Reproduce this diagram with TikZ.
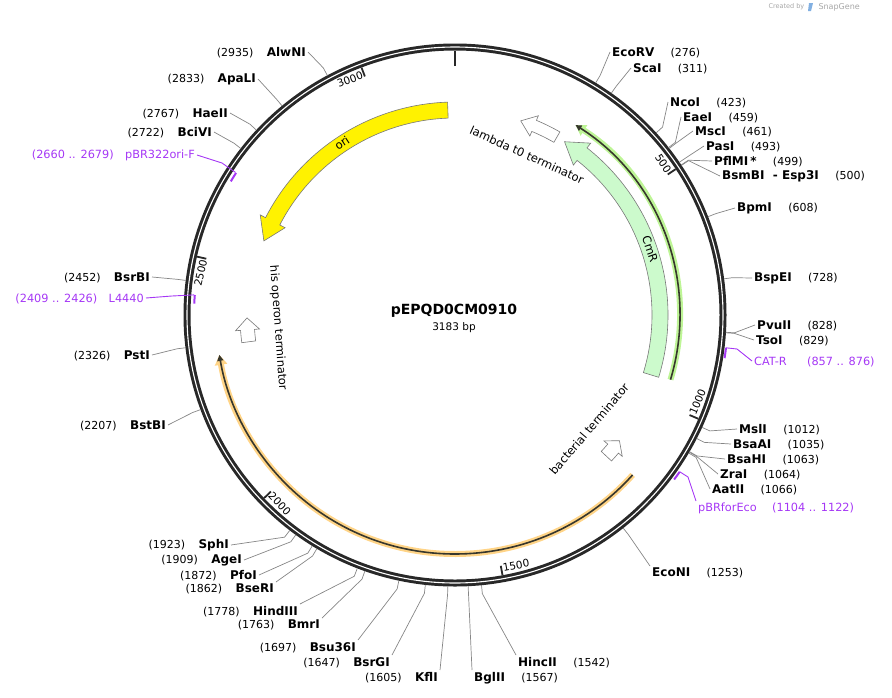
\documentclass[tikz,border=0pt]{standalone}
\usepackage{fontspec}
\setmainfont{DejaVu Sans}
\usetikzlibrary{arrows.meta,positioning}
\definecolor{ringc}{RGB}{40,40,40}
\definecolor{primc}{RGB}{165,55,245}
\definecolor{cmrc}{RGB}{204,250,204}
\definecolor{orfo}{RGB}{255,212,135}
\definecolor{orfg}{RGB}{190,245,150}
\definecolor{edgec}{RGB}{120,120,120}
\definecolor{orfline}{RGB}{55,55,45}
\tikzset{
  site/.style={draw=gray!95, line width=0.7pt},
  enz/.style={font=\fontsize{12}{14}\selectfont\bfseries, inner sep=2pt},
  sitenum/.style={font=\fontsize{11}{13}\selectfont, inner sep=2pt},
  prim/.style={primc, line width=0.9pt},
  primlbl/.style={font=\fontsize{11.3}{13}\selectfont, text=primc, inner sep=2pt},
  feat/.style={draw=edgec, line width=0.6pt},
  featlbl/.style={font=\fontsize{11.5}{13}\selectfont, inner sep=0pt},
  tickmark/.style={ringc, line width=1.8pt},
  ticklbl/.style={font=\fontsize{10.5}{12}\selectfont, inner sep=1.5pt},
}

\begin{document}
\begin{tikzpicture}[x=1pt,y=-1pt]
  \useasboundingbox (0,0) rectangle (892,697);
  \coordinate (C) at (455,315);
  \foreach \ta/\ba/\pa/\rm/\hb/\hh/\fc in {-92/-152.8/-158.8/205/8/14/yellow, 17/-51.7/-57.7/205/8/14/cmrc,
      -60.2/-67.3/-71.3/205/6/11/white, 172.6/175.9/179.2/208/7/12/white, 43/40.2/37.4/207/7/12/white}{
    \draw[feat, fill=\fc] ([shift={({\ta}:{\rm+\hb})}]C) arc[start angle=\ta, end angle=\ba, radius=\rm+\hb]
      -- ([shift={({\ba}:{\rm+\hh})}]C) -- ([shift={({\pa}:{\rm})}]C) -- ([shift={({\ba}:{\rm-\hh})}]C)
      -- ([shift={({\ba}:{\rm-\hb})}]C) arc[start angle=\ba, end angle=\ta, radius=\rm-\hb] -- cycle;
  }
  \draw[orfo, line width=6pt, -{Triangle[length=10pt,width=12pt]}] ([shift={(42:239)}]C) arc[start angle=42, end angle=170.4, radius=239];
  \draw[orfline, line width=1.6pt, -{Triangle[length=6pt,width=6pt]}] ([shift={(42:239)}]C) arc[start angle=42, end angle=170.4, radius=239];
  \draw[orfg, line width=6pt, -{Triangle[length=10pt,width=12pt]}] ([shift={(16.7:225)}]C) arc[start angle=16.7, end angle=-57.6, radius=225];
  \draw[orfline, line width=1.6pt, -{Triangle[length=6pt,width=6pt]}] ([shift={(16.7:225)}]C) arc[start angle=16.7, end angle=-57.6, radius=225];

  \node[featlbl, rotate=33.3] (lori) at ([shift={(236.7:206)}]C) {ori};
  \node[featlbl, rotate=-24.2] (llam) at ([shift={(-65.8:175.5)}]C) {lambda t0 terminator};
  \node[featlbl, rotate=-71.3] (lcmr) at ([shift={(-18.7:206)}]C) {CmR};
  \node[featlbl, rotate=-85.8] (lhis) at ([shift={(175.8:177.5)}]C) {his operon terminator};
  \node[featlbl, rotate=49.6] (lbac) at ([shift={(40.4:176)}]C) {bacterial terminator};

  \draw[ringc, line width=7pt] (C) circle[radius=268];
  \draw[white, line width=1.1pt] (C) circle[radius=268];
  \draw[tickmark] ([shift={(-90:249)}]C) -- ([shift={(-90:264.5)}]C);
  \foreach \p in {500,1000,...,3000}{
    \pgfmathsetmacro\t{\p/3183*360}
    \pgfmathsetmacro\a{\t-90}
    \pgfmathtruncatemacro\flip{(\t>90 && \t<270)?1:0}
    \draw[tickmark] ([shift={(\a:255)}]C) -- ([shift={(\a:264.5)}]C);
    \ifnum\flip=1
      \node[ticklbl, anchor=south west, rotate=180-\t] (t\p) at ([shift={(\a:263)}]C) {\p};
    \else
      \node[ticklbl, anchor=north east, rotate=-\t] (t\p) at ([shift={(\a:263)}]C) {\p};
    \fi
  }

  \node[font=\fontsize{14}{16}\selectfont\bfseries] (title) at (454,311) {pEPQD0CM0910};
  \node[font=\fontsize{10.5}{12}\selectfont] (size) at (454,327.5) {3183 bp};

  \foreach \p/\x/\y/\an/\nm [count=\i] in {276/610/52/west/EcoRV, 311/631/68/west/ScaI, 423/668/102/west/NcoI,
      459/681/117/west/EaeI, 461/693/131/west/MscI, 493/704/146/west/PasI, 499/712/161/west/{PflMI\,*},
      500/720/176/west/{BsmBI\ \ -\ Esp3I}, 608/735/208/west/BpmI, 728/752/278/west/BspEI, 828/755/325/west/PvuII,
      829/754/340/west/TsoI, 1012/737/429/west/MslI, 1035/731/444/west/BsaAI, 1063/725/459/west/BsaHI,
      1064/718/474/west/ZraI, 1066/710/489/west/AatII, 1253/650/566/north west/EcoNI,
      1542/516/655/north west/HincII, 1567/472/670/north west/BglII}{
    \pgfmathsetmacro\a{\p/3183*360-90}
    \coordinate (r\i) at ([shift={(\a:271.5)}]C);
    \coordinate (k\i) at ([shift={(\a:280)}]C);
    \node[enz, anchor=\an] (n\i) at (\x,\y) {\nm};
    \node[sitenum, anchor=base west] (m\i) at ([xshift=12pt]n\i.base east) {(\p)};
    \draw[site] (r\i) -- (k\i) -- (n\i.\an);
  }
  \foreach \p/\x/\y/\an/\nm [count=\i] in {2935/308/52/east/AlwNI, 2833/258/79/east/ApaLI, 2767/230/113/east/HaeII,
      2722/214/132/east/BciVI, 2452/152/277/east/BsrBI, 2326/152/355/east/PstI, 2207/168/425/east/BstBI,
      1923/231/545/east/SphI, 1909/244/560/east/AgeI, 1872/259/575/east/PfoI, 1862/276/582/north east/BseRI,
      1778/300/604/north east/HindIII, 1763/322/618/north east/BmrI, 1697/358/640/north east/Bsu36I,
      1647/392/655/north east/BsrGI, 1605/440/670/north east/KflI}{
    \pgfmathsetmacro\a{\p/3183*360-90}
    \coordinate (rl\i) at ([shift={(\a:271.5)}]C);
    \coordinate (kl\i) at ([shift={(\a:280)}]C);
    \node[enz, anchor=\an] (w\i) at (\x,\y) {\nm};
    \node[sitenum, anchor=base east] (v\i) at ([xshift=-9pt]w\i.base west) {(\p)};
    \draw[site] (rl\i) -- (kl\i) -- (w\i.\an);
  }

  \draw[primc, line width=2pt] ([shift={(6.9:273)}]C) arc[start angle=6.9, end angle=9.1, radius=273];
  \draw[primc, line width=2pt] ([shift={(34.9:274)}]C) arc[start angle=34.9, end angle=36.9, radius=274];
  \draw[primc, line width=2pt] ([shift={(210.8:261)}]C) arc[start angle=210.8, end angle=213, radius=261];
  \draw[primc, line width=2pt] ([shift={(182.5:261)}]C) arc[start angle=182.5, end angle=184.4, radius=261];
  \coordinate (pa1) at ([shift={(6.9:273)}]C);
  \coordinate (pa2) at ([shift={(34.9:274)}]C);
  \coordinate (pa3) at ([shift={(213:262)}]C);
  \coordinate (pa4) at ([shift={(184.4:262)}]C);
  \node[primlbl, anchor=west] (p1) at (752,361) {CAT-R};
  \node[primlbl, anchor=base west] (q1) at ([xshift=16pt]p1.base east) {(857 .. 876)};
  \node[primlbl, anchor=north west] (p2) at (696,501) {pBRforEco};
  \node[primlbl, anchor=base west] (q2) at ([xshift=11pt]p2.base east) {(1104 .. 1122)};
  \node[primlbl, anchor=east] (p3) at (197,155) {pBR322ori-F};
  \node[primlbl, anchor=base east] (q3) at ([xshift=-7pt]p3.base west) {(2660 .. 2679)};
  \node[primlbl, anchor=east] (p4) at (146,298) {L4440};
  \node[primlbl, anchor=base east] (q4) at ([xshift=-7pt]p4.base west) {(2409 .. 2426)};
  \draw[prim] (pa1) -- (737,349) -- (p1.west);
  \draw[prim] (pa2) -- (688,477) -- (p2.north west);
  \draw[prim] (pa3) -- (222,163) -- (p3.east);
  \draw[prim] (pa4) -- (172,296) -- (p4.east);

  \node[font=\fontsize{6.5}{7}\selectfont, text=gray!70, anchor=west] (cr) at (765,7) {Created by};
  \fill[cyan!60!blue!50] (809,3) -- (813,3) -- (811,11) -- (808,11) -- cycle;
  \node[font=\fontsize{8}{9}\selectfont, text=gray!70, anchor=west] (sg) at (815,7) {SnapGene};
\end{tikzpicture}
\end{document}
